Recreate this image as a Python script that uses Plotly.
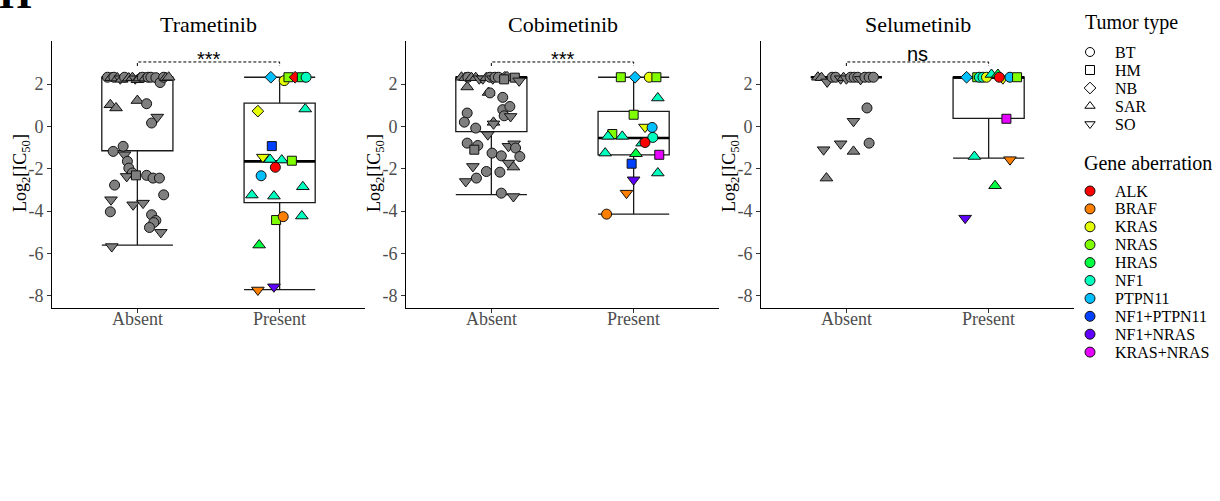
import plotly.graph_objects as go

# ---------------- data ----------------
drugs = ["Trametinib", "Cobimetinib", "Selumetinib"]
groups = ["Absent", "Present"]
y_ticks = [-8, -6, -4, -2, 0, 2]
y_ticktext = ["-8", "-6", "-4", "-2", "0", "2"]
sig_labels = ["***", "***", "ns"]

tumor_types = ["BT", "HM", "NB", "SAR", "SO"]
gene_names = ["ALK", "BRAF", "KRAS", "NRAS", "HRAS", "NF1", "PTPN11",
              "NF1+PTPN11", "NF1+NRAS", "KRAS+NRAS"]
gene_colors = ["#FF0000", "#FF8000", "#E6FF00", "#80FF00", "#00FF40", "#00FFBF",
               "#00BFFF", "#0040FF", "#6000FF", "#E600FF"]

# box statistics [Absent, Present]: q1, median, q3, lower whisker, upper whisker
tram_q1 = [-1.15, -3.6];  tram_med = [2.32, -1.65]; tram_q3 = [2.32, 1.1]
tram_lo = [-5.6, -7.7];   tram_hi = [2.32, 2.32]
cobi_q1 = [-0.25, -1.34]; cobi_med = [2.32, -0.55]; cobi_q3 = [2.32, 0.71]
cobi_lo = [-3.22, -4.14]; cobi_hi = [2.32, 2.32]
selu_q1 = [2.32, 0.38];   selu_med = [2.32, 2.32];  selu_q3 = [2.32, 2.32]
selu_lo = [2.32, -1.5];   selu_hi = [2.32, 2.32]

# Trametinib - Absent
tram_abs_val = [2.32, 2.30, 2.32, 2.28, 2.25, 2.22, 2.32, 2.28, 2.30, 2.25, 2.20, 2.28, 2.32, 2.28,
                2.32, 2.32, 2.30, 2.07, 2.32, 2.30, 2.32,
                1.02, 0.87, 1.22, 1.07, 0.16, 0.44, -0.94, -1.18, -1.34, -1.65, -1.97, -2.2, -2.36,
                -2.31, -2.31, -2.44, -2.44, -2.77, -3.23, -3.46, -3.70, -3.62, -4.03, -4.17, -4.44,
                -4.54, -4.77, -5.0, -5.67]
tram_abs_type = ["BT", "SAR", "BT", "SAR", "SO", "SAR", "BT", "SAR", "SAR", "SO", "SAR", "SAR", "BT", "SAR",
                 "BT", "BT", "BT", "BT", "BT", "SAR", "SAR",
                 "SAR", "SAR", "SAR", "BT", "BT", "SO", "BT", "BT", "SO", "BT", "BT", "BT", "SO",
                 "HM", "BT", "BT", "BT", "BT", "BT", "SO", "SO", "SO", "BT", "BT", "BT",
                 "BT", "BT", "SO", "SO"]
tram_abs_jit = [-0.21, -0.185, -0.165, -0.14, -0.12, -0.11, -0.09, -0.06, -0.035, -0.015, 0.0, 0.015, 0.035, 0.055,
                0.075, 0.095, 0.13, 0.16, 0.185, 0.2, 0.22,
                -0.19, -0.15, 0.0, 0.065, 0.10, 0.14, -0.10, -0.17, -0.09, -0.07, -0.06, -0.035, -0.075,
                -0.01, 0.065, 0.11, 0.155, -0.16, 0.185, -0.185, -0.03, 0.04, -0.19, 0.10, 0.13,
                0.115, 0.085, 0.165, -0.18]

# Trametinib - Present
tram_pre_val = [2.32, 2.16, 2.32, 2.32, 2.32, 2.32, 0.72, 0.82, -0.93, -1.45, -1.56, -1.59, -1.62, -1.93,
                -2.33, -3.24, -3.29, -2.85, -4.42, -4.26, -4.23, -5.6, -7.72, -7.57]
tram_pre_type = ["NB", "BT", "HM", "NB", "HM", "BT", "NB", "SAR", "HM", "SO", "SAR", "SAR", "HM", "BT",
                 "BT", "SAR", "SAR", "SAR", "HM", "BT", "SAR", "SAR", "SO", "SO"]
tram_pre_gene = ["PTPN11", "KRAS", "NRAS", "ALK", "HRAS", "NF1", "KRAS", "NF1", "NF1+PTPN11", "KRAS", "NF1",
                 "NF1", "NRAS", "ALK", "PTPN11", "NF1", "NF1", "NF1", "NRAS", "BRAF", "NF1", "HRAS",
                 "BRAF", "NF1+NRAS"]
tram_pre_jit = [-0.062, 0.032, 0.062, 0.109, 0.156, 0.186, -0.153, 0.18, -0.055, -0.118, -0.067, 0.015,
                0.086, -0.03, -0.13, -0.195, -0.04, 0.163, -0.025, 0.025, 0.156, -0.144, -0.153, -0.04]

# Cobimetinib - Absent
cobi_abs_val = [2.32, 2.30, 2.32, 2.30, 2.30, 2.25, 2.25, 2.30, 2.32, 2.25, 2.32, 2.32, 2.32, 2.32, 2.22,
                2.30, 2.15,
                1.86, 1.6, 1.58, 1.37, 0.63, 0.79, 0.94, 0.5, 0.47, 0.2, -0.08, 0.19, 0.12, -0.39, -0.79,
                -0.9, -1.1, -0.94, -0.82, -1.02, -1.26, -1.39, -1.42, -1.73, -1.92, -1.89, -2.13, -2.16,
                -2.6, -2.44, -3.15, -3.31]
cobi_abs_type = ["SAR", "SAR", "BT", "SAR", "SAR", "SO", "SO", "SAR", "BT", "SO", "BT", "BT", "NB", "NB", "HM",
                 "HM", "SO",
                 "SAR", "SAR", "BT", "BT", "BT", "BT", "BT", "BT", "SO", "BT", "BT", "SAR", "SO", "SO", "BT",
                 "BT", "HM", "SO", "SO", "BT", "BT", "BT", "BT", "SO", "SAR", "SO", "BT", "BT",
                 "SO", "BT", "BT", "SO"]
cobi_abs_jit = [-0.21, -0.185, -0.165, -0.14, -0.11, -0.085, -0.06, -0.035, -0.01, 0.01, 0.025, 0.05, 0.095,
                0.11, 0.09, 0.165, 0.195,
                -0.17, -0.02, -0.01, 0.08, -0.17, 0.08, 0.13, 0.09, 0.135, -0.19, -0.11, 0.015, 0.015,
                -0.025, -0.17, -0.095, -0.12, 0.12, 0.16, 0.17, 0.005, 0.07, 0.2, 0.12, 0.155, -0.13,
                -0.035, 0.06, -0.18, -0.105, 0.07, 0.155]

# Cobimetinib - Present
cobi_pre_val = [2.32, 2.32, 2.32, 2.32, 1.34, 0.55, -0.03, -0.05, -0.36, -0.47, -0.47, -0.52, -0.79, -0.76,
                -1.26, -1.29, -1.34, -1.76, -2.2, -2.52, -3.15, -4.14]
cobi_pre_type = ["HM", "NB", "BT", "HM", "SAR", "HM", "SO", "BT", "HM", "SAR", "SAR", "BT", "SAR", "BT",
                 "SAR", "SAR", "HM", "HM", "SAR", "SO", "SO", "BT"]
cobi_pre_gene = ["NRAS", "PTPN11", "KRAS", "NRAS", "NF1", "NRAS", "KRAS", "PTPN11", "NRAS", "NF1", "NF1",
                 "NF1", "NF1", "ALK", "NF1", "HRAS", "KRAS+NRAS", "NF1+PTPN11", "NF1", "NF1+NRAS", "BRAF",
                 "BRAF"]
cobi_pre_jit = [-0.09, 0.01, 0.11, 0.16, 0.17, 0.0, 0.08, 0.13, -0.15, -0.18, -0.08, 0.135, 0.06, 0.08,
                -0.2, 0.016, 0.18, -0.014, 0.17, 0.0, -0.05, -0.19]

# Selumetinib - Absent
selu_abs_val = [2.32, 2.30, 2.1, 2.32, 2.32, 2.25, 2.30, 2.25, 2.32, 2.32, 2.32, 2.22, 2.32, 2.32, 2.32,
                0.87, 0.24, -1.1, -0.82, -1.18, -0.79, -2.44]
selu_abs_type = ["SAR", "SAR", "SO", "BT", "BT", "SO", "SAR", "SO", "BT", "BT", "BT", "SO", "BT", "BT", "BT",
                 "BT", "SO", "SO", "SO", "SAR", "BT", "SAR"]
selu_abs_jit = [-0.2, -0.175, -0.135, -0.1, -0.075, -0.04, -0.02, 0.0, 0.03, 0.055, 0.08, 0.1, 0.13, 0.16,
                0.19, 0.145, 0.05, -0.16, -0.04, 0.05, 0.16, -0.14]

# Selumetinib - Present
selu_pre_val = [2.32, 2.32, 2.32, 2.32, 2.32, 2.45, 2.45, 2.25, 2.32, 2.32, 2.32, 0.36, -1.42, -1.57,
                -2.8, -4.33]
selu_pre_type = ["NB", "HM", "BT", "BT", "BT", "SAR", "SAR", "SO", "BT", "BT", "HM", "HM", "SAR", "SO",
                 "SAR", "SO"]
selu_pre_gene = ["PTPN11", "NRAS", "NF1", "NF1", "KRAS", "NF1", "HRAS", "KRAS", "ALK", "PTPN11", "NRAS",
                 "KRAS+NRAS", "NF1", "BRAF", "HRAS", "NF1+NRAS"]
selu_pre_jit = [-0.155, -0.08, -0.065, -0.04, -0.015, 0.02, 0.065, 0.1, 0.075, 0.15, 0.2, 0.125, -0.1,
                0.15, 0.045, -0.165]

# ---------------- styling ----------------
SERIF = "Liberation Serif"
SANS = "Liberation Sans"
GREY = "#7F7F7F"
sym_map = {"BT": "circle", "HM": "square", "NB": "diamond", "SAR": "triangle-up", "SO": "triangle-down"}
size_map = {"BT": 10, "HM": 9, "NB": 9, "SAR": 11, "SO": 11}
color_map = dict(zip(gene_names, gene_colors))

W, H = 1220, 501
panel_left = [52, 406, 761]
panel_w = 313
plot_top, plot_bottom = 41, 308
yrange = [-8.57, 4.03]
box_w = 0.5

fig = go.Figure()

panels = [
    dict(q1=tram_q1, med=tram_med, q3=tram_q3, lo=tram_lo, hi=tram_hi,
         av=tram_abs_val, at=tram_abs_type, aj=tram_abs_jit,
         pv=tram_pre_val, pt=tram_pre_type, pg=tram_pre_gene, pj=tram_pre_jit),
    dict(q1=cobi_q1, med=cobi_med, q3=cobi_q3, lo=cobi_lo, hi=cobi_hi,
         av=cobi_abs_val, at=cobi_abs_type, aj=cobi_abs_jit,
         pv=cobi_pre_val, pt=cobi_pre_type, pg=cobi_pre_gene, pj=cobi_pre_jit),
    dict(q1=selu_q1, med=selu_med, q3=selu_q3, lo=selu_lo, hi=selu_hi,
         av=selu_abs_val, at=selu_abs_type, aj=selu_abs_jit,
         pv=selu_pre_val, pt=selu_pre_type, pg=selu_pre_gene, pj=selu_pre_jit),
]

annotations = []
for i, p in enumerate(panels):
    xa = "x" if i == 0 else f"x{i+1}"
    ya = "y" if i == 0 else f"y{i+1}"
    cats = [1, 2]
    fig.add_trace(go.Box(x=cats, q1=p["q1"], median=p["med"], q3=p["q3"],
                         lowerfence=p["lo"], upperfence=p["hi"], width=box_w, whiskerwidth=1,
                         fillcolor="white", line=dict(color="#1a1a1a", width=1.3),
                         boxpoints=False, showlegend=False, xaxis=xa, yaxis=ya, hoverinfo="skip"))
    # thicker median lines
    for c, m in zip(cats, p["med"]):
        fig.add_trace(go.Scatter(x=[c - box_w / 2, c + box_w / 2], y=[m, m], mode="lines",
                                 line=dict(color="black", width=2.6), showlegend=False,
                                 xaxis=xa, yaxis=ya, hoverinfo="skip"))
    # absent points
    fig.add_trace(go.Scatter(
        x=[1 + j for j in p["aj"]], y=p["av"], mode="markers", showlegend=False, xaxis=xa, yaxis=ya,
        marker=dict(symbol=[sym_map[t] for t in p["at"]], size=[size_map[t] for t in p["at"]],
                    color=GREY, opacity=1, line=dict(color="#111111", width=1))))
    # present points
    fig.add_trace(go.Scatter(
        x=[2 + j for j in p["pj"]], y=p["pv"], mode="markers", showlegend=False, xaxis=xa, yaxis=ya,
        marker=dict(symbol=[sym_map[t] for t in p["pt"]], size=[size_map[t] for t in p["pt"]],
                    color=[color_map[g] for g in p["pg"]], opacity=1,
                    line=dict(color="#111111", width=1))))
    # significance bracket
    fig.add_trace(go.Scatter(x=[1, 1, 2, 2], y=[2.85, 3.04, 3.04, 2.85], mode="lines",
                             line=dict(color="black", width=1, dash="3px,2px"), showlegend=False,
                             xaxis=xa, yaxis=ya, hoverinfo="skip"))
    annotations.append(dict(x=1.5, y=3.0, xref=xa, yref=ya, text=sig_labels[i], showarrow=False,
                            xanchor="center", yanchor="bottom",
                            yshift=-9 if sig_labels[i].startswith("*") else -4,
                            font=dict(family=SANS, size=20, color="black")))
    # x tick labels
    for c, g in zip(cats, groups):
        annotations.append(dict(x=c, y=1 - 319 / H, xref=xa, yref="paper", text=g, showarrow=False,
                                xanchor="center", yanchor="middle",
                                font=dict(family=SERIF, size=18, color="#4D4D4D")))
    # panel title
    cx = (panel_left[i] + panel_w / 2) / W
    annotations.append(dict(x=cx, y=1 - 24 / H, xref="paper", yref="paper", text=drugs[i],
                            showarrow=False, xanchor="center", yanchor="middle",
                            font=dict(family=SERIF, size=22, color="black")))
    # y-axis title
    annotations.append(dict(x=(panel_left[i] - 31) / W, y=1 - 173 / H, xref="paper", yref="paper",
                            text="Log<sub>2</sub>[IC<sub>50</sub>]", textangle=-90, showarrow=False,
                            xanchor="center", yanchor="middle",
                            font=dict(family=SERIF, size=18, color="black")))

    dom_x = [panel_left[i] / W, (panel_left[i] + panel_w) / W]
    dom_y = [1 - plot_bottom / H, 1 - plot_top / H]
    axis_common = dict(showline=True, linecolor="black", linewidth=1, ticks="outside", ticklen=4,
                       tickcolor="#333333", showgrid=False, zeroline=False,
                       tickfont=dict(family=SERIF, size=18, color="#4D4D4D"))
    fig.update_layout(**{
        ("xaxis" if i == 0 else f"xaxis{i+1}"): dict(domain=dom_x, range=[0.4, 2.6], tickvals=cats,
                                                    showticklabels=False, anchor=ya, **axis_common),
        ("yaxis" if i == 0 else f"yaxis{i+1}"): dict(domain=dom_y, range=yrange, tickvals=y_ticks,
                                                    ticktext=y_ticktext, anchor=xa, **axis_common),
    })

# ---------------- manual legend ----------------
fig.update_layout(
    xaxis4=dict(domain=[1075 / W, 1], range=[1075, 1220], visible=False, anchor="y4"),
    yaxis4=dict(domain=[0, 1], range=[H, 0], visible=False, anchor="x4"),
)
tt_y = [52 + 18 * k for k in range(len(tumor_types))]
fig.add_trace(go.Scatter(x=[1090] * len(tumor_types), y=tt_y, mode="markers", showlegend=False,
                         xaxis="x4", yaxis="y4", hoverinfo="skip",
                         marker=dict(symbol=[sym_map[t] + "-open" for t in tumor_types], size=9,
                                     color="black", opacity=1, line=dict(width=1))))
ga_y = [191 + 17.9 * k for k in range(len(gene_names))]
fig.add_trace(go.Scatter(x=[1090] * len(gene_names), y=ga_y, mode="markers", showlegend=False,
                         xaxis="x4", yaxis="y4", hoverinfo="skip",
                         marker=dict(symbol="circle", size=10, color=gene_colors, opacity=1,
                                     line=dict(color="#111111", width=1))))
for t, yy in zip(tumor_types, tt_y):
    annotations.append(dict(x=1113, y=yy, xref="x4", yref="y4", text=t, showarrow=False, xanchor="left",
                            yanchor="middle", font=dict(family=SERIF, size=16, color="black")))
for g, yy in zip(gene_names, ga_y):
    annotations.append(dict(x=1113, y=yy, xref="x4", yref="y4", text=g, showarrow=False, xanchor="left",
                            yanchor="middle", font=dict(family=SERIF, size=16, color="black")))
annotations.append(dict(x=1083, y=22, xref="x4", yref="y4", text="Tumor type", showarrow=False,
                        xanchor="left", yanchor="middle", font=dict(family=SERIF, size=20, color="black")))
annotations.append(dict(x=1082, y=163, xref="x4", yref="y4", text="Gene aberration", showarrow=False,
                        xanchor="left", yanchor="middle", font=dict(family=SERIF, size=20, color="black")))

# panel letter
annotations.append(dict(x=0, y=1, xref="paper", yref="paper", text="<b>H</b>", showarrow=False,
                        xanchor="left", yanchor="bottom", xshift=-3, yshift=-19,
                        font=dict(family=SERIF, size=42, color="black")))

fig.update_layout(width=W, height=H, margin=dict(l=0, r=0, t=0, b=0), plot_bgcolor="white",
                  paper_bgcolor="white", annotations=annotations, showlegend=False)

fig.write_html("out.html", config={"displayModeBar": False},
               post_script="document.body.style.margin='0';")
